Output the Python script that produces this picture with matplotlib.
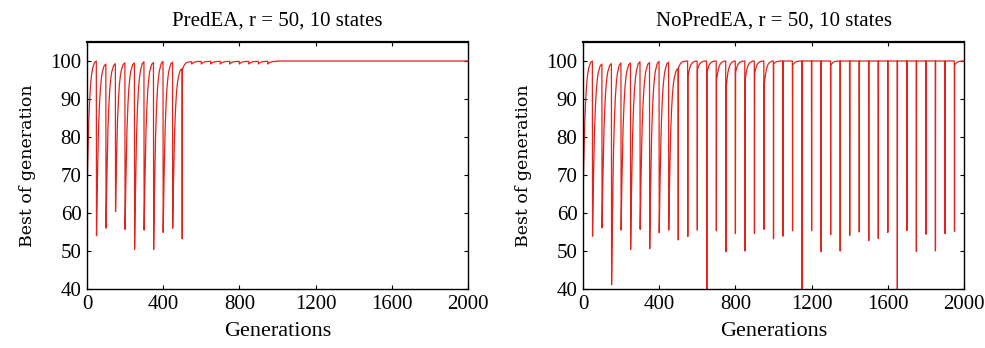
import numpy as np
import matplotlib
matplotlib.use("Agg")
import matplotlib.pyplot as plt

# environment changes every r generations, 40 changes in 2000 generations
r = 50
n_changes = 40

# shape of the recovery after a change (offset in generations, fraction recovered)
recover_offsets = [0, 1, 2, 4, 7, 10, 15, 20, 25, 30, 40, 49]
recover_frac = [0, 0.08, 0.15, 0.28, 0.45, 0.60, 0.75, 0.85, 0.91, 0.95, 0.99, 1.0]

# PredEA: value right at the change, level the run restarts from, value before next change
pred_low = [63, 54, 56, 60.4, 55.7, 50.4, 55.5, 50.4, 54.9, 56,
            53.2, 99.2, 99.2, 99.2, 99.2, 99.2, 99.2, 99.2, 99.2, 99.2] + [100] * 20
pred_restart = [63, 54, 56, 60.4, 55.7, 50.4, 55.5, 50.4, 54.9, 56,
                97.5, 99.2, 99.2, 99.2, 99.2, 99.2, 99.2, 99.2, 99.2, 99.2] + [100] * 20
pred_peak = [100, 99.2, 99.3, 99.5, 99.5, 99.8, 99.6, 99.9, 99.7, 98.0,
             99.8, 99.9, 99.9, 99.9, 99.9, 99.9, 99.9, 99.9, 99.9, 99.9] + [100] * 20

# NoPredEA
nopred_low = [63, 53.9, 56.1, 41.1, 55.5, 50.4, 55.7, 50.6, 54.8, 55.5,
              52.9, 53.8, 55.5, 38, 55.3, 49.8, 54.6, 50.0, 54.6, 55.7,
              53.2, 53.9, 55.3, 38, 55.4, 49.8, 54.3, 50.0, 54.1, 55.0,
              52.7, 53.3, 54.9, 38, 55.4, 49.9, 54.4, 50.0, 54.6, 55.2]
nopred_restart = [63, 53.9, 56.1, 41.1, 55.5, 50.4, 55.7, 50.6, 54.8, 55.5,
                  98.0, 95.4, 97.6, 96.8, 94.5, 92, 96.8, 94.5, 96.5, 93,
                  99.2, 100, 98.8, 100, 100, 100, 98.8, 100, 100, 100,
                  100, 100, 100, 100, 100, 100, 100, 100, 100, 98.8]
nopred_peak = [100, 99.2, 99.3, 99.5, 99.5, 99.8, 99.6, 99.9, 99.7, 98.0] + [100] * 30

titles = ["PredEA, r = 50, 10 states", "NoPredEA, r = 50, 10 states"]
x_ticks = [0, 400, 800, 1200, 1600, 2000]
y_ticks = [40, 50, 60, 70, 80, 90, 100]


def build_curve(low, restart, peak):
    gens = []
    vals = []
    for k in range(n_changes):
        start = k * r
        for off, fr in zip(recover_offsets, recover_frac):
            gens.append(start + off)
            if off == 0:
                vals.append(low[k])
            else:
                vals.append(restart[k] + (peak[k] - restart[k]) * fr)
    return gens, vals


def draw(ax, gens, vals, title):
    ax.plot(gens, vals, color="#e3221b", lw=0.9)
    ax.set_xlim(0, 2000)
    ax.set_ylim(40, 105)
    ax.set_xticks(x_ticks)
    ax.set_yticks(y_ticks)
    ax.tick_params(direction="in", top=True, right=True, length=3, width=0.8,
                   labelsize=15, pad=4)
    for lab in ax.get_xticklabels() + ax.get_yticklabels():
        lab.set_family("Liberation Serif")
    for s in ax.spines.values():
        s.set_linewidth(1.0)
    ax.spines["top"].set_linewidth(1.6)
    ax.set_title(title, family="Liberation Serif", fontsize=15, pad=12)
    ax.set_xlabel("Generations", family="Liberation Serif", fontsize=16, labelpad=6)
    ax.set_ylabel("Best of generation", family="DejaVu Serif", fontsize=12.5, labelpad=10)


fig = plt.figure(figsize=(9.85, 3.48), dpi=100)
ax1 = fig.add_axes([0.0883, 0.1695, 0.3868, 0.7098])
ax2 = fig.add_axes([0.5919, 0.1695, 0.3868, 0.7098])

g, v = build_curve(pred_low, pred_restart, pred_peak)
draw(ax1, g, v, titles[0])
g, v = build_curve(nopred_low, nopred_restart, nopred_peak)
draw(ax2, g, v, titles[1])

fig.savefig("out.png", dpi=100)
